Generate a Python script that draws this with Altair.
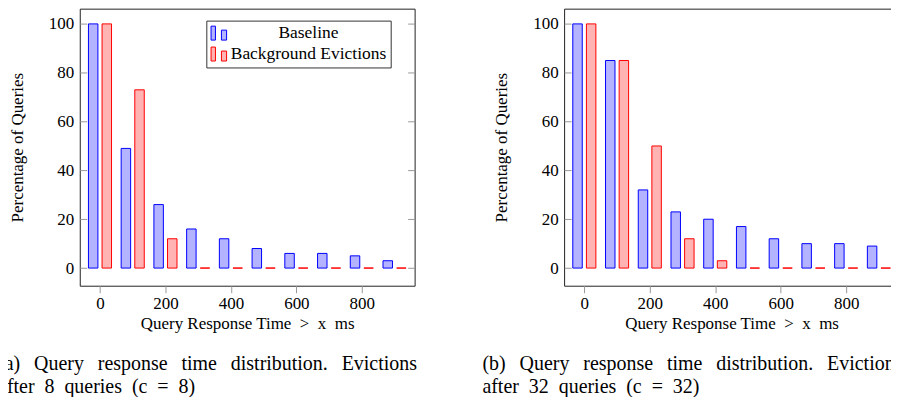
import altair as alt
import pandas as pd

times = [0, 100, 200, 300, 400, 500, 600, 700, 800, 900]
series = ["Baseline", "Background Evictions"]
baseline_a = [100, 49, 26, 16, 12, 8, 6, 6, 5, 3]
evict_a = [100, 73, 12, 0, 0, 0, 0, 0, 0, 0]
baseline_b = [100, 85, 32, 23, 20, 17, 12, 10, 10, 9]
evict_b = [100, 85, 50, 12, 3, 0, 0, 0, 0, 0]
x_ticks = [0, 200, 400, 600, 800]
y_ticks = [0, 20, 40, 60, 80, 100]
NB = "\u00a0"
TH = "\u2009"
G = NB + TH + " "
caption_a = [
    "(a)" + G + "Query" + G + "response" + G + "time" + G + "distribution." + G + "Evictions",
    "after" + NB + " 8" + NB + " queries" + NB + " (c" + NB + " =" + NB + " 8)",
]
caption_b = [
    "(b)" + G + "Query" + G + "response" + G + "time" + G + "distribution." + G + "Evictions",
    "after" + NB + " 32" + NB + " queries" + NB + " (c" + NB + " =" + NB + " 32)",
]
x_title = "Query Response Time" + NB * 2 + ">" + NB * 2 + "x" + NB * 2 + "ms"
y_title = "Percentage of Queries"

fill_colors = ["#b3b3ff", "#ffb3b3"]
stroke_colors = ["#0000ff", "#ff0000"]
FONT = "Liberation Serif, Times New Roman, DejaVu Serif, serif"
W, H = 336, 278
LEGEND_PATH = "M-1,-0.9H-0.45V0.85H-1Z M0.3,-0.4H0.95V0.85H0.3Z"


def frame(base, ev):
    rows = []
    for t, b, e in zip(times, base, ev):
        rows.append({"t": t, "series": series[0], "pct": b})
        rows.append({"t": t, "series": series[1], "pct": e})
    return pd.DataFrame(rows)


def panel(base, ev, caption):
    df = frame(base, ev)
    xs = alt.Scale(domain=[-61.8, 961.3], nice=False, zero=False, padding=0)
    ys = alt.Scale(domain=[-7.23, 106.24], nice=False, zero=False, padding=0)
    legend = alt.Legend(
        title=None, orient="none", legendX=127, legendY=12, direction="vertical",
        symbolType=LEGEND_PATH, symbolSize=256, symbolStrokeWidth=1,
        labelFont=FONT, labelFontSize=17.5, labelColor="black",
        labelAlign="center", labelOffset=81, labelLimit=400,
        strokeColor="#333", fillColor="white", padding=4, rowPadding=2,
        cornerRadius=0,
    )
    bars = alt.Chart(df).transform_calculate(
        xpos="datum.t + (datum.series == 'Baseline' ? -20.8 : 20.8)"
    ).mark_bar(size=9.5, strokeWidth=1).encode(
        x=alt.X("xpos:Q", scale=xs, axis=alt.Axis(
            orient="bottom", values=x_ticks, tickSize=7, tickColor="#999",
            domain=False, grid=False, labelFont=FONT, labelFontSize=17,
            labelColor="black", labelPadding=3, title=x_title, titleFont=FONT,
            titleFontSize=17, titleFontWeight="normal", titleColor="black",
            titlePadding=4)),
        y=alt.Y("pct:Q", scale=ys, axis=alt.Axis(
            orient="left", values=y_ticks, offset=-7, tickSize=7,
            tickColor="#999", domain=False, grid=False, labelFont=FONT,
            labelFontSize=17, labelColor="black", labelPadding=6,
            title=y_title, titleFont=FONT, titleFontSize=17,
            titleFontWeight="normal", titleColor="black", titlePadding=22)),
        y2=alt.datum(0),
        fill=alt.Fill("series:N", scale=alt.Scale(domain=series, range=fill_colors), legend=legend),
        stroke=alt.Stroke("series:N", scale=alt.Scale(domain=series, range=stroke_colors), legend=legend),
    )
    right = alt.Chart(df).mark_rule(opacity=0).encode(
        y=alt.Y("pct:Q", scale=ys, axis=alt.Axis(
            orient="right", values=y_ticks, offset=-7, tickSize=7,
            tickColor="#999", domain=False, grid=False, labels=False, title=None)),
    )
    cap1 = alt.Chart(pd.DataFrame({"text": [caption[0]]})).mark_text(
        align="left", baseline="alphabetic", font=FONT, fontSize=20, color="black"
    ).encode(x=alt.value(-82), y=alt.value(362.5), text="text:N")
    cap2 = alt.Chart(pd.DataFrame({"text": [caption[1]]})).mark_text(
        align="left", baseline="alphabetic", font=FONT, fontSize=20, color="black"
    ).encode(x=alt.value(-82), y=alt.value(386), text="text:N")
    return alt.layer(bars, right, cap1, cap2).resolve_axis(y="independent").properties(width=W, height=H)


pa = panel(baseline_a, evict_a, caption_a)
pb = panel(baseline_b, evict_b, caption_b)

chart = alt.hconcat(pa, pb, spacing=150, bounds="flush").configure_view(
    stroke="#222", strokeWidth=1
).properties(
    padding={"left": -11, "top": -1, "right": -13, "bottom": -2},
    background="white",
)

chart.save("out.html", embed_options={"renderer": "svg", "actions": False})
